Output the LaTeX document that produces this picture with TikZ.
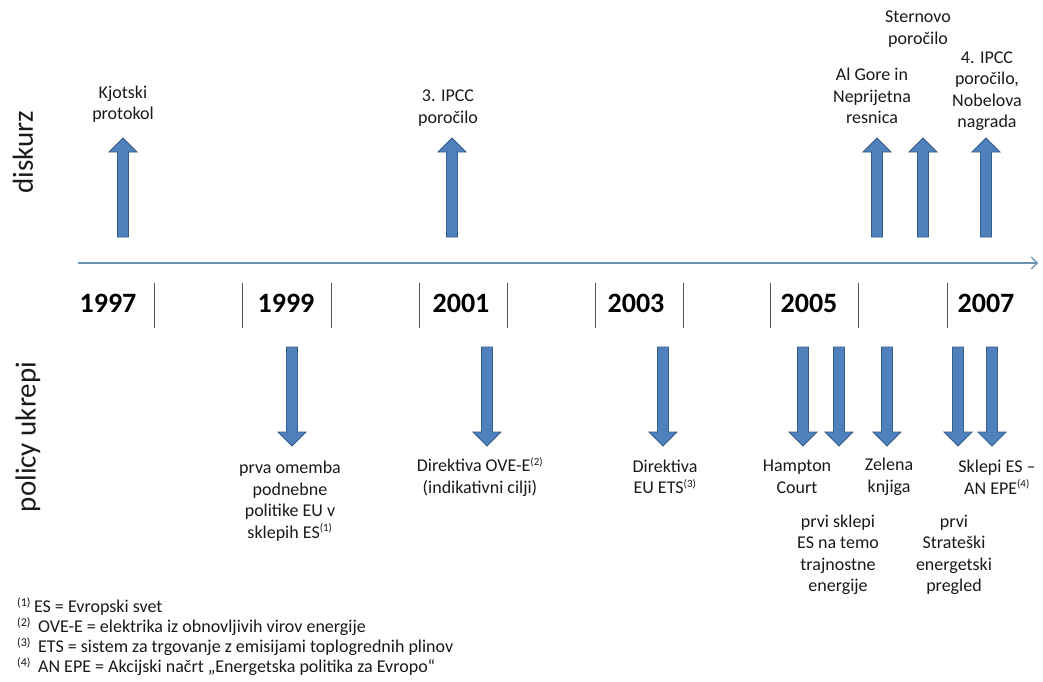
\documentclass[tikz,border=0pt]{standalone}
\usepackage{fontspec}
\setmainfont{Carlito}
\usetikzlibrary{arrows.meta}
\definecolor{arrfill}{HTML}{4F81BD}
\definecolor{arrline}{HTML}{385D8A}
\definecolor{axiscol}{HTML}{6A93B4}
\definecolor{tickcol}{HTML}{555555}
\definecolor{txt}{HTML}{1A1A1A}
\newcommand\blockup[3]{% x, tip y, bottom y
  \filldraw[blockarr] (#1-5.5,#3) -- (#1-5.5,#2+14) -- (#1-14,#2+14) -- (#1,#2) -- (#1+14,#2+14) -- (#1+5.5,#2+14) -- (#1+5.5,#3) -- cycle;}
\newcommand\blockdown[3]{% x, top y, tip y
  \filldraw[blockarr] (#1-5.5,#2) -- (#1-5.5,#3-14) -- (#1-14,#3-14) -- (#1,#3) -- (#1+14,#3-14) -- (#1+5.5,#3-14) -- (#1+5.5,#2) -- cycle;}
\newcommand\fnm[1]{\textsuperscript{\fontsize{11}{11}\selectfont(#1)}}
\newcommand\fnmb[1]{\textsuperscript{\fontsize{12}{12}\selectfont(#1)}}
\begin{document}
\begin{tikzpicture}[x=1pt,y=-1pt,
  blockarr/.style={fill=arrfill,draw=arrline,line width=0.8pt,line join=miter},
  lbl/.style={align=center,inner sep=0pt,text=txt,font=\fontsize{18}{21.5}\selectfont},
  yearlbl/.style={inner sep=0pt,text=black,font=\fontsize{28}{30}\selectfont\bfseries},
  sidelbl/.style={inner sep=0pt,text=txt,rotate=90,font=\fontsize{29}{32}\selectfont},
  tickln/.style={draw=tickcol,line width=0.8pt},
  axisln/.style={draw=axiscol,line width=1.3pt,-{Straight Barb[length=6pt,width=12pt,line width=1.1pt]}},
  fnote/.style={align=left,inner sep=0pt,text=txt,anchor=west,font=\fontsize{18}{20}\selectfont}]
\useasboundingbox (0,0) rectangle (1043,681);
\fill[white] (0,0) rectangle (1043,681);

% side labels
\node[sidelbl] (diskurz) at (23,152) {diskurz};
\node[sidelbl] (policy) at (28,437) {policy ukrepi};

% time axis
\coordinate (axL) at (78,263);
\coordinate (axR) at (1038,263);
\draw[axisln] (axL) -- (axR);

% ticks
\foreach \x in {154,242,331,419,507,595,683,770,858,947}{
  \draw[tickln] (\x,283) -- (\x,328);
}

% years
\node[yearlbl] (y1997) at (108,303) {1997};
\node[yearlbl] (y1999) at (286,303) {1999};
\node[yearlbl] (y2001) at (461,303) {2001};
\node[yearlbl] (y2003) at (636,303) {2003};
\node[yearlbl] (y2005) at (809,303) {2005};
\node[yearlbl] (y2007) at (986,303) {2007};

% discourse arrows (up)
\blockup{123}{138}{237}
\blockup{452}{138}{237}
\blockup{877}{138}{237}
\blockup{923}{138}{237}
\blockup{986}{138}{237}

\node[lbl] (kjoto) at (123,104) {Kjotski\\protokol};
\node[lbl] (ipcc3) at (448,108) {3. IPCC\\poročilo};
\node[lbl] (gore) at (872,96) {Al Gore in\\Neprijetna\\resnica};
\node[lbl] (stern) at (918,29) {Sternovo\\poročilo};
\node[lbl] (ipcc4) at (987,91) {4. IPCC\\poročilo,\\Nobelova\\nagrada};

% policy arrows (down)
\blockdown{292}{347}{446}
\blockdown{487}{347}{446}
\blockdown{663}{347}{446}
\blockdown{803}{347}{446}
\blockdown{839}{347}{446}
\blockdown{887}{347}{446}
\blockdown{958}{347}{446}
\blockdown{992}{347}{446}

\node[lbl] (prva) at (290,501) {prva omemba\\podnebne\\politike EU v\\sklepih ES\fnm{1}};
\node[lbl] (ove) at (480,477) {Direktiva OVE-E\fnm{2}\\(indikativni cilji)};
\node[lbl] (ets) at (665,477) {Direktiva\\EU ETS\fnm{3}};
\node[lbl] (hampton) at (797,477) {Hampton\\Court};
\node[lbl] (zelena) at (889,477) {Zelena\\knjiga};
\node[lbl] (sklepi) at (997,477) {Sklepi ES –\\AN EPE\fnm{4}};
\node[lbl] (prvisklepi) at (838,555) {prvi sklepi\\ES na temo\\trajnostne\\energije};
\node[lbl] (strat) at (954,555) {prvi\\Strateški\\energetski\\pregled};

% footnotes
\node[fnote] (notes) at (17,637) {\fnmb{1}\,ES = Evropski svet\\
\fnmb{2}\, OVE-E = elektrika iz obnovljivih virov energije\\
\fnmb{3}\, ETS = sistem za trgovanje z emisijami toplogrednih plinov\\
\fnmb{4}\, AN EPE = Akcijski načrt „Energetska politika za Evropo“};
\end{tikzpicture}
\end{document}
